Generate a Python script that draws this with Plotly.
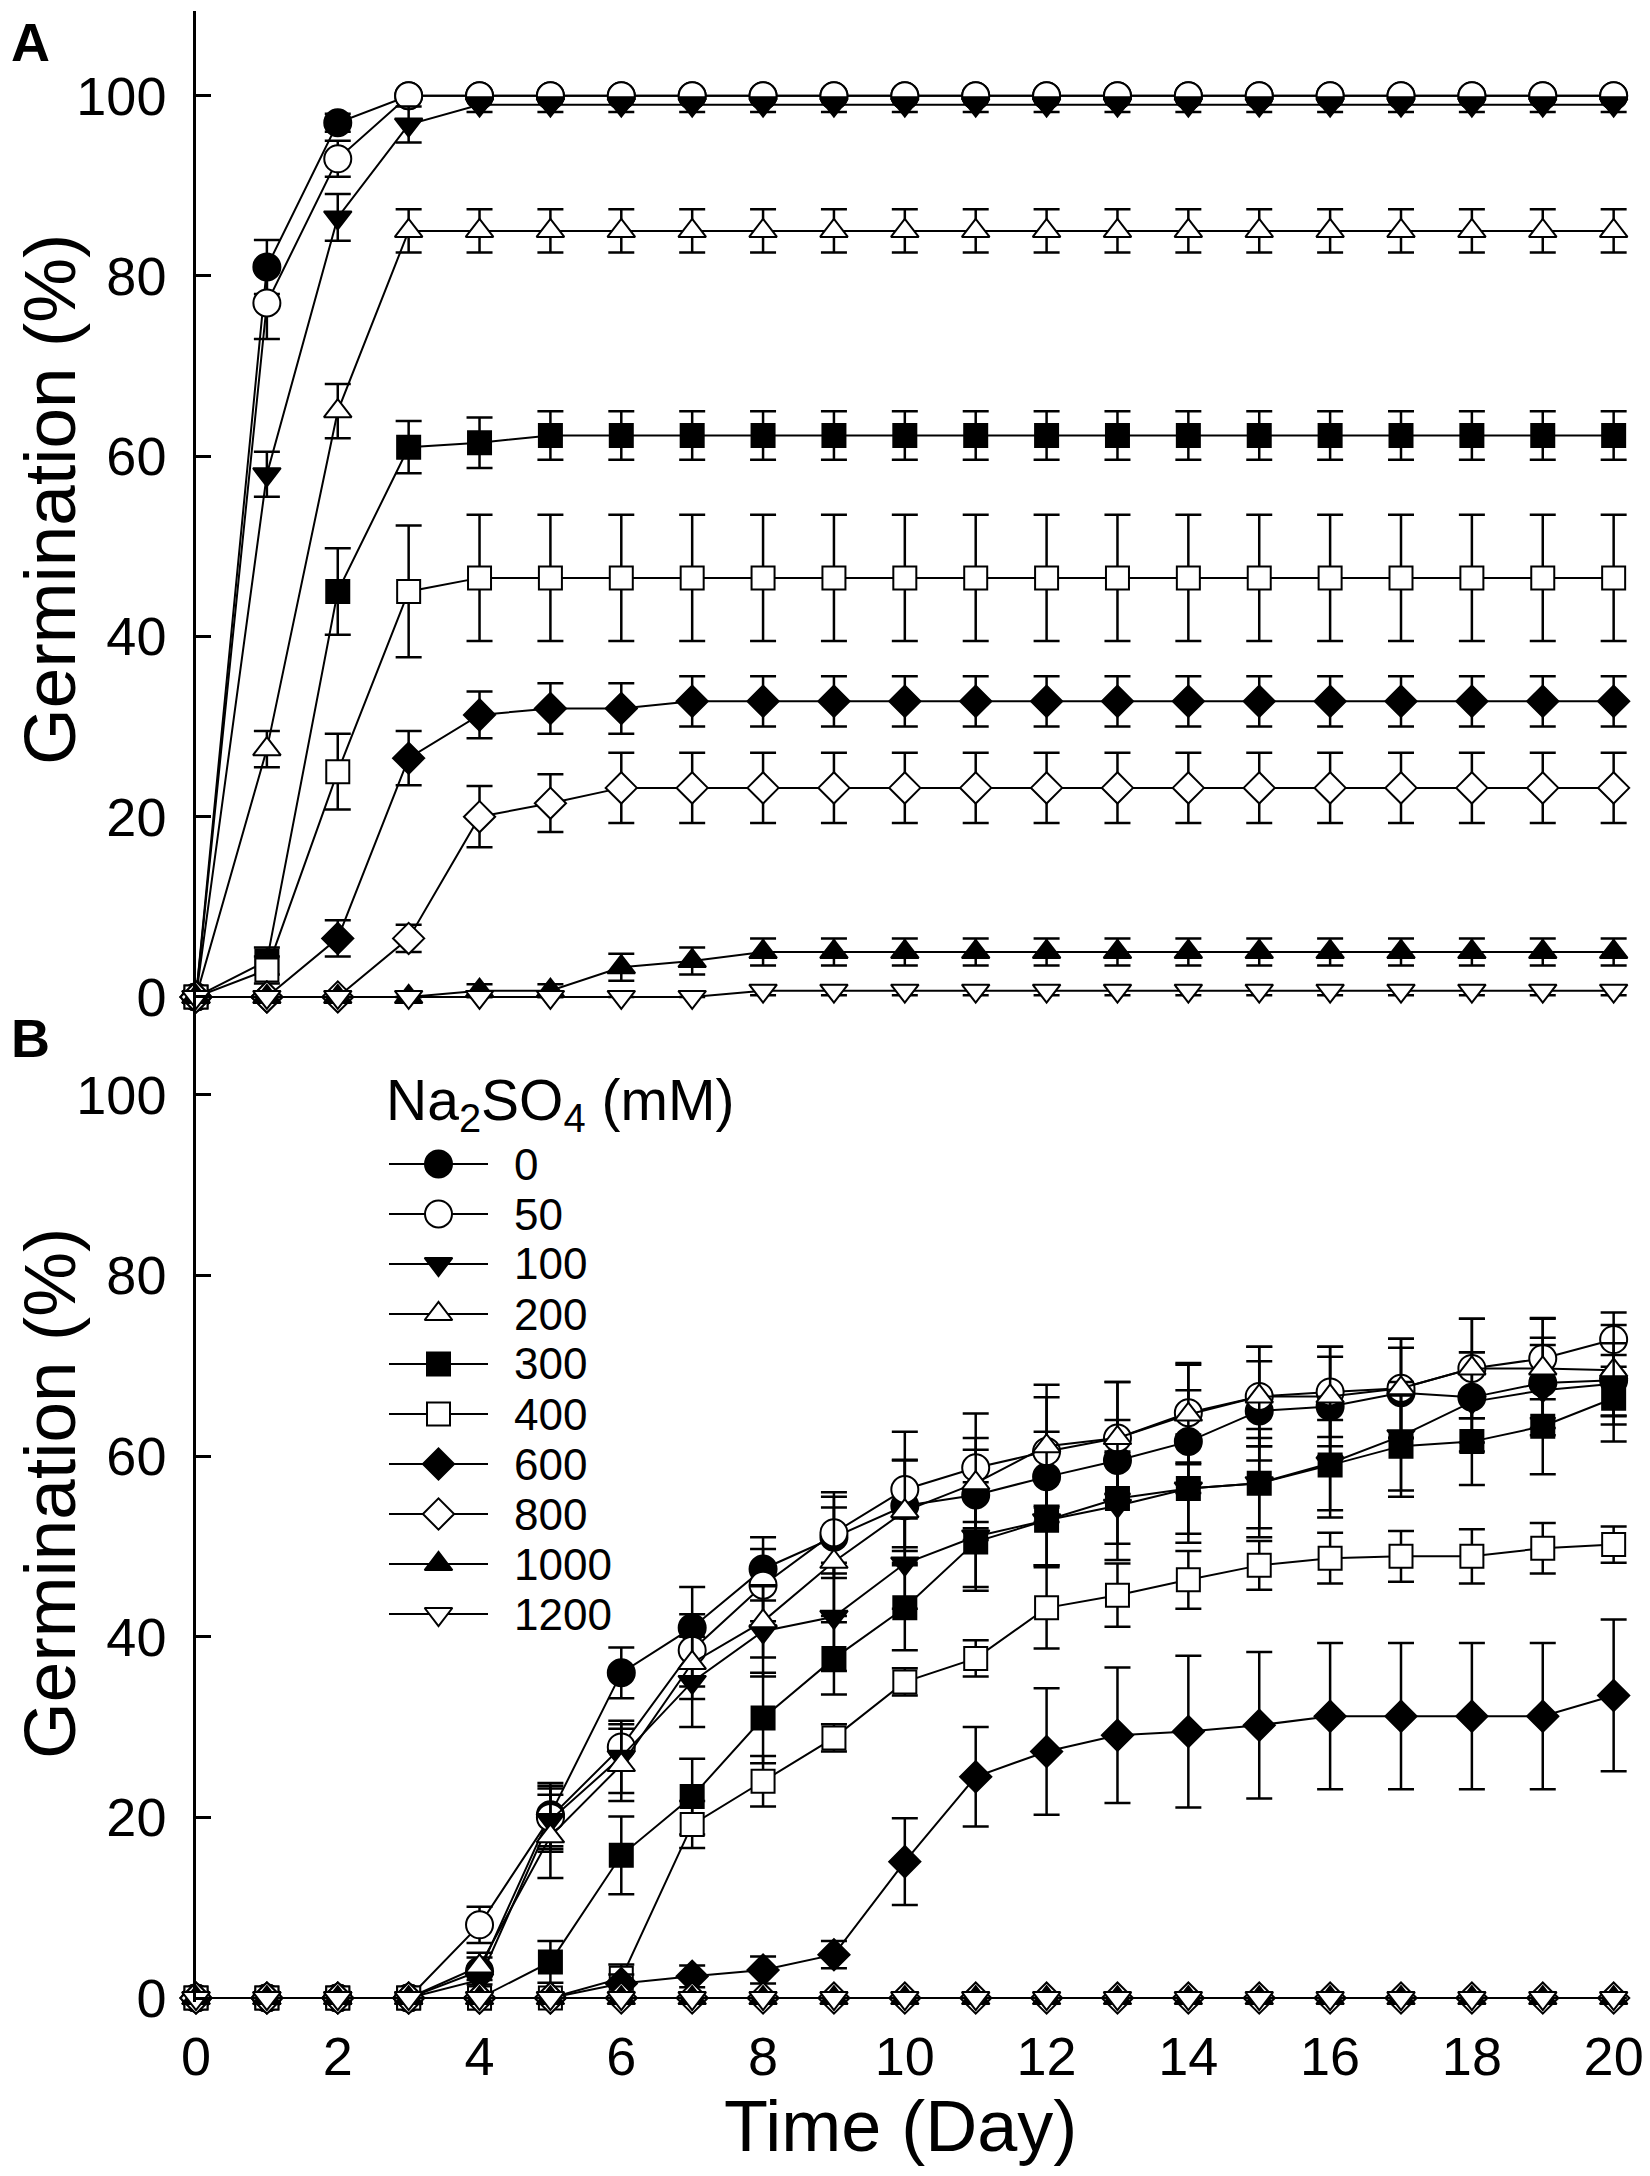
import plotly.graph_objects as go

# ---------------- data ----------------
days = list(range(21))
conc_labels = ["0", "50", "100", "200", "300", "400", "600", "800", "1000", "1200"]

# Panel A
A_0 = [0, 81, 97, 100] + [100] * 17
A_0_err = [0, 3, 1, 0.5] + [0.3] * 17
A_50 = [0, 77, 93, 100] + [100] * 17
A_50_err = [0, 4, 2, 0.5] + [0.3] * 17
A_100 = [0, 58, 86.5, 96.8] + [99] * 17
A_100_err = [0, 2.5, 2.6, 2] + [0.8] * 17
A_200 = [0, 27.5, 65, 85] + [85] * 17
A_200_err = [0, 2, 3, 2.4] + [2.4] * 17
A_300 = [0, 4, 45, 61, 61.5] + [62.3] * 16
A_300_err = [0, 1.5, 4.8, 2.9, 2.8] + [2.7] * 16
A_400 = [0, 3, 25, 45] + [46.5] * 17
A_400_err = [0, 1.5, 4.2, 7.3] + [7] * 17
A_600 = [0, 0, 6.5, 26.5, 31.3, 32, 32] + [32.8] * 14
A_600_err = [0, 0, 2, 3, 2.6, 2.8, 2.8] + [2.8] * 14
A_800 = [0, 0, 0, 6.5, 20, 21.5] + [23.2] * 15
A_800_err = [0, 0, 0, 1.5, 3.4, 3.2] + [3.9] * 15
A_1000 = [0, 0, 0, 0, 0.7, 0.7, 3.3, 4] + [5] * 13
A_1000_err = [0, 0, 0, 0, 0.7, 0.7, 1.5, 1.5] + [1.5] * 13
A_1200 = [0] * 8 + [0.7] * 13
A_1200_err = [0] * 8 + [0.5] * 13

# Panel B
B_0 = [0, 0, 0, 0, 3, 20.3, 36, 41, 47.5, 51, 54.5, 55.7, 57.7, 59.5, 61.6, 65, 65.5, 67, 66.5, 68.1, 68.4]
B_0_err = [0, 0, 0, 0, 1.5, 3.5, 2.8, 4.5, 3.5, 4.5, 5, 5, 5, 4.5, 5.7, 5.5, 5.5, 5, 5, 5, 4]
B_50 = [0, 0, 0, 0, 8.1, 20, 27.8, 38.5, 45.7, 51.5, 56.3, 58.7, 60.5, 62, 64.8, 66.6, 67.1, 67.5, 69.7, 70.8, 72.9]
B_50_err = [0, 0, 0, 0, 2, 3.5, 2.5, 4, 4, 4.5, 6.4, 6, 6, 6.2, 5.5, 5.5, 5, 5.5, 5.5, 4.5, 3]
B_100 = [0, 0, 0, 0, 2, 19.7, 26.7, 35, 40.6, 42.2, 48.1, 51.1, 52.9, 54.5, 56.4, 57, 59.2, 62.2, 66, 67.3, 68]
B_100_err = [0, 0, 0, 0, 1.5, 3.5, 4, 5, 5, 6, 5, 6, 5, 6, 6, 6, 6, 6, 5.5, 5, 4.5]
B_200 = [0, 0, 0, 0, 3.5, 17.9, 25.8, 37.1, 41.7, 48.3, 53.9, 57, 61.1, 62, 64.6, 66.6, 66.6, 67.5, 69.7, 69.7, 69.5]
B_200_err = [0, 0, 0, 0, 1.5, 4.6, 4, 4, 4, 6, 5.7, 5, 6.8, 6.2, 5.5, 5.5, 5.5, 5.5, 5.5, 5.5, 5]
B_300 = [0, 0, 0, 0, 0, 4, 15.8, 22.3, 31, 37.6, 43.2, 50.5, 52.9, 55.3, 56.4, 57, 59, 61.1, 61.6, 63.3, 66.4]
B_300_err = [0, 0, 0, 0, 0, 2.3, 4.3, 4.2, 5, 4, 4.7, 5, 5, 5, 5, 5, 5, 5.6, 4.8, 5.3, 4.8]
B_400 = [0, 0, 0, 0, 0, 0, 2.2, 19.2, 24, 28.8, 35, 37.6, 43.2, 44.6, 46.3, 47.9, 48.7, 48.9, 48.9, 49.8, 50.2]
B_400_err = [0, 0, 0, 0, 0, 0, 1.5, 2.6, 2.8, 1.5, 1.5, 2, 4.5, 3.5, 3.2, 2.7, 2.8, 2.8, 3, 2.8, 2]
B_600 = [0, 0, 0, 0, 0, 0, 1.6, 2.4, 3.1, 4.8, 15.1, 24.5, 27.3, 29.1, 29.5, 30.2, 31.2, 31.2, 31.2, 31.2, 33.5]
B_600_err = [0, 0, 0, 0, 0, 0, 1, 1.2, 1.5, 1.5, 4.8, 5.5, 7, 7.5, 8.4, 8.1, 8.1, 8.1, 8.1, 8.1, 8.4]
B_800 = [0] * 21
B_800_err = [0] * 21
B_1000 = [0] * 21
B_1000_err = [0] * 21
B_1200 = [0] * 21
B_1200_err = [0] * 21

y_ticks = [0, 20, 40, 60, 80, 100]
x_ticks = list(range(0, 21, 2))

panelA = [(A_0, A_0_err), (A_50, A_50_err), (A_100, A_100_err), (A_200, A_200_err),
          (A_300, A_300_err), (A_400, A_400_err), (A_600, A_600_err), (A_800, A_800_err),
          (A_1000, A_1000_err), (A_1200, A_1200_err)]
panelB = [(B_0, B_0_err), (B_50, B_50_err), (B_100, B_100_err), (B_200, B_200_err),
          (B_300, B_300_err), (B_400, B_400_err), (B_600, B_600_err), (B_800, B_800_err),
          (B_1000, B_1000_err), (B_1200, B_1200_err)]

# ---------------- styles ----------------
styles = [
    ("circle", "black", 27), ("circle", "white", 27),
    ("triangle-down", "black", 24), ("triangle-up", "white", 24),
    ("square", "black", 23), ("square", "white", 23),
    ("diamond", "black", 24), ("diamond", "white", 24),
    ("triangle-up", "black", 24), ("triangle-down", "white", 24),
]

# page has an 8px body margin: figure is drawn 8px right / 8px down
OFF = 8
W, H = 1650 - OFF, 2176 - OFF
L, R, T, B = 188, 8, 3, 174
PW, PH = W - L - R, H - T - B


def px_x(px):
    return (px - OFF - L) / PW


def px_y(py):
    return (H - B - (py - OFF)) / PH


split = px_y(1046)
FONT = "Liberation Sans, Arial, sans-serif"

fig = go.Figure()

for (vals, errs), (sym, fill, size) in zip(panelA, styles):
    fig.add_trace(go.Scatter(
        x=days, y=vals, mode="lines+markers", xaxis="x", yaxis="y",
        line=dict(color="black", width=2),
        marker=dict(symbol=sym, color=fill, size=size, line=dict(color="black", width=2)),
        error_y=dict(type="data", array=errs, visible=True, color="black", thickness=2.5, width=13),
        cliponaxis=False, showlegend=False))

for (vals, errs), (sym, fill, size) in zip(panelB, styles):
    fig.add_trace(go.Scatter(
        x=days, y=vals, mode="lines+markers", xaxis="x2", yaxis="y2",
        line=dict(color="black", width=2),
        marker=dict(symbol=sym, color=fill, size=size, line=dict(color="black", width=2)),
        error_y=dict(type="data", array=errs, visible=True, color="black", thickness=2.5, width=13),
        cliponaxis=False, showlegend=False))

# legend drawn on its own small axes
for i, (lab, (sym, fill, size)) in enumerate(zip(conc_labels, styles)):
    fig.add_trace(go.Scatter(
        x=[0, 0.5, 1], y=[i, i, i], mode="lines+markers", xaxis="x3", yaxis="y3",
        line=dict(color="black", width=2),
        marker=dict(symbol=sym, color=fill, size=[0, size, 0], opacity=[0, 1, 0],
                    line=dict(color="black", width=2)),
        cliponaxis=False, showlegend=False, hoverinfo="skip"))

ROW0, ROWSTEP = 1164, 50
annotations = []
for i, lab in enumerate(conc_labels):
    annotations.append(dict(xref="paper", yref="paper", x=px_x(512), y=px_y(ROW0 + ROWSTEP * i),
                            text=lab, showarrow=False, xanchor="left", yanchor="middle",
                            font=dict(family=FONT, size=44, color="black")))

annotations += [
    dict(xref="paper", yref="paper", x=px_x(384), y=px_y(1104),
         text="Na<sub>2</sub>SO<sub>4</sub> (mM)", showarrow=False,
         xanchor="left", yanchor="middle", font=dict(family=FONT, size=57, color="black")),
    dict(xref="paper", yref="paper", x=px_x(9), y=px_y(10), text="<b>A</b>", showarrow=False,
         xanchor="left", yanchor="top", font=dict(family=FONT, size=54, color="black")),
    dict(xref="paper", yref="paper", x=px_x(9), y=px_y(1006), text="<b>B</b>", showarrow=False,
         xanchor="left", yanchor="top", font=dict(family=FONT, size=54, color="black")),
    dict(xref="paper", yref="paper", x=px_x(50), y=px_y(500), text="Germination (%)",
         showarrow=False, textangle=-90, xanchor="center", yanchor="middle",
         font=dict(family=FONT, size=73, color="black")),
    dict(xref="paper", yref="paper", x=px_x(50), y=px_y(1494), text="Germination (%)",
         showarrow=False, textangle=-90, xanchor="center", yanchor="middle",
         font=dict(family=FONT, size=73, color="black")),
    dict(xref="paper", yref="paper", x=px_x(900), y=px_y(2126), text="Time (Day)",
         showarrow=False, xanchor="center", yanchor="middle",
         font=dict(family=FONT, size=72, color="black")),
]

yax_common = dict(showline=True, linecolor="black", linewidth=2.5, ticks="inside", ticklen=15,
                  tickwidth=2.5, tickcolor="black", tickvals=y_ticks, showgrid=False,
                  zeroline=False, tickfont=dict(family=FONT, size=54, color="black"),
                  ticklabelstandoff=16)

fig.update_layout(
    width=W, height=H, margin=dict(l=L, r=R, t=T, b=B),
    paper_bgcolor="white", plot_bgcolor="white",
    xaxis=dict(domain=[0, 1], range=[0, 20.4], anchor="y", showline=False, showgrid=False,
               zeroline=False, showticklabels=False, ticks=""),
    yaxis=dict(domain=[split, 1], range=[-5.44, 109.4], anchor="x", **yax_common),
    xaxis2=dict(domain=[0, 1], range=[0, 20.4], anchor="y2", showline=False, showgrid=False,
                zeroline=False, ticks="", tickvals=x_ticks, ticklabelstandoff=18,
                tickfont=dict(family=FONT, size=54, color="black")),
    yaxis2=dict(domain=[0, split], range=[-0.44, 105.4], anchor="x2", **yax_common),
    xaxis3=dict(domain=[px_x(389), px_x(488)], range=[0, 1], anchor="y3", visible=False),
    yaxis3=dict(domain=[px_y(ROW0 + ROWSTEP * 9.5), px_y(ROW0 - ROWSTEP * 0.5)],
                range=[9.5, -0.5], anchor="x3", visible=False),
    annotations=annotations,
    showlegend=False,
)

fig.write_html("out.html")
